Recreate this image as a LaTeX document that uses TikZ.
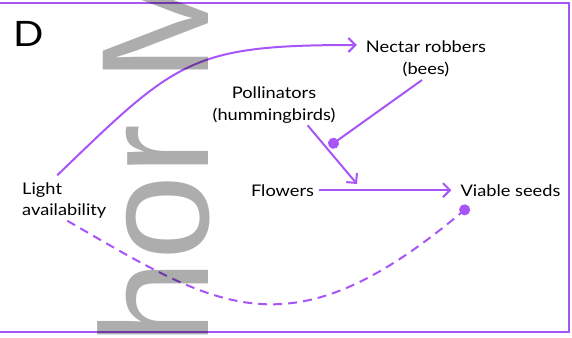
\documentclass[tikz,border=0pt]{standalone}
\usepackage{fontspec}
\setmainfont{Lato}[FakeStretch=1.14]
\newfontfamily\markfont{Liberation Sans}
\usepackage{tikz}
\usetikzlibrary{arrows.meta,positioning,calc}
\definecolor{accent}{RGB}{168,85,247}

\begin{document}
\begin{tikzpicture}[
        x=1pt,y=1pt,
        lbl/.style={inner sep=0pt,font=\fontsize{16}{21.5}\selectfont,align=center},
        arrow/.style={-{Straight Barb[length=7pt,width=14pt]},line width=2pt,draw=accent},
        link/.style={-{Circle[length=11pt]},line width=2pt,draw=accent},
        frame/.style={draw=accent,line width=2.5pt}
    ]
        \useasboundingbox (0,0) rectangle (572,-337);
        \clip (0,0) rectangle (572,-337);

        % Frame
        \draw[frame] (-5,-3) rectangle (569,-332);

        % Panel letter
        \node[anchor=base west,inner sep=0pt,font=\fontsize{35}{35}\selectfont] (panel) at (13,-46) {D};

        % Labels
        \node[lbl,align=left,anchor=west] (light) at (22,-200.5) {Light\\availability};
        \node[lbl] (robber) at (426,-59) {Nectar robbers\\(bees)};
        \node[lbl] (poll) at (274,-105) {Pollinators\\(hummingbirds)};
        \node[lbl,anchor=base] (flowers) at (282.5,-196) {Flowers};
        \node[lbl,anchor=base] (seeds) at (510.5,-196) {Viable seeds};

        % Points on the links
        \coordinate (onlink) at (329,-146.5);
        \coordinate (onpf) at (357,-184);

        % Arrows
        \draw[arrow] ([shift={(-7,7)}]light.north) to[out=44,in=180,looseness=1.3] ([shift={(-9,14)}]robber.west);
        \draw[link] ([shift={(-4,-3)}]robber.south) -- (onlink);
        \draw[arrow] ([shift={(-28,-2)}]poll.south east) -- (onpf);
        \draw[arrow] ([xshift=5pt]flowers.east) -- ([xshift=-9pt]seeds.west);
        \draw[link,dash pattern=on 9pt off 6pt] ([shift={(3,-2)}]light.south) to[out=-30,in=220,out looseness=1.1,in looseness=1.5] ([shift={(8.5,-10)}]seeds.south west);

        % Watermark
        \node[anchor=base west,rotate=90,inner sep=0pt,text=black,text opacity=0.32,font=\markfont\fontsize{153}{153}\selectfont] (mark) at (208,-346) {hor M};
    \end{tikzpicture}
\end{document}
